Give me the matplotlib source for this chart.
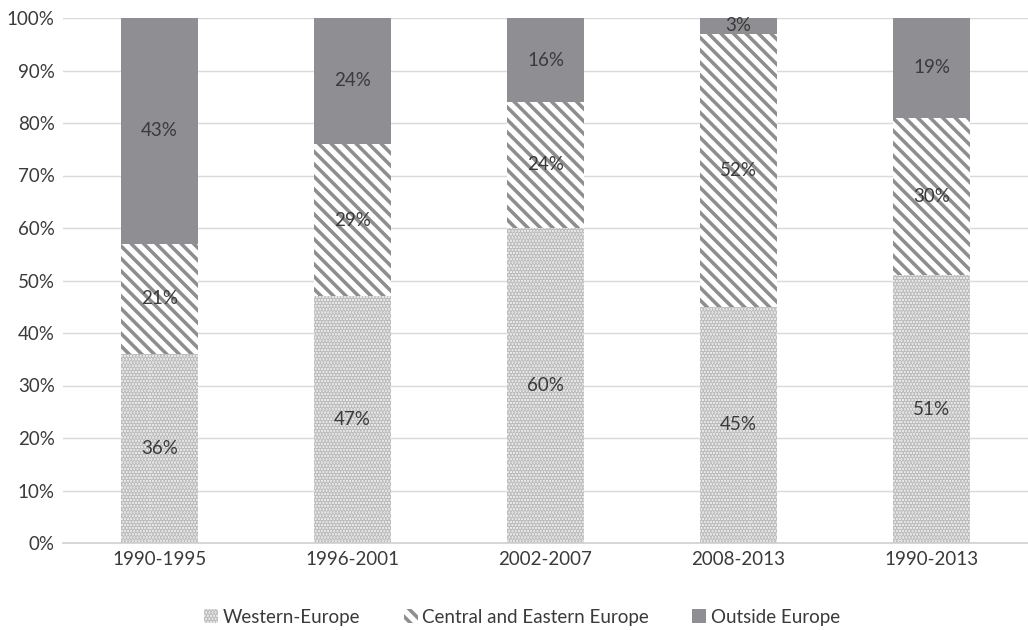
import numpy as np
import matplotlib
matplotlib.use("Agg")
import matplotlib.pyplot as plt
from matplotlib.patches import Patch

periods = ["1990-1995", "1996-2001", "2002-2007", "2008-2013", "1990-2013"]
western = [36, 47, 60, 45, 51]
central = [21, 29, 24, 52, 30]
outside = [43, 24, 16, 3, 19]
series_names = ["Western-Europe", "Central and Eastern Europe", "Outside Europe"]

DPI = 150
plt.rcParams['font.family'] = ['Lato', 'DejaVu Sans']
plt.rcParams['hatch.linewidth'] = 1.7

fig = plt.figure(figsize=(1028 / DPI, 630 / DPI), dpi=DPI)
ax = fig.add_axes([63 / 1028, 1 - 543 / 630, 1 - 63 / 1028, (543 - 18) / 630])

x = np.arange(len(periods))
w = 0.4
text_col = "#3a3a3a"
fs = 9.0

west_style = dict(facecolor="#ececec", edgecolor="#bdbdbd", hatch="........", linewidth=0)
cent_style = dict(facecolor="white", edgecolor="#8e8e8e", hatch="\\\\\\\\", linewidth=0)
out_style = dict(facecolor="#8f8f93", linewidth=0)

ax.bar(x, western, w, zorder=2, **west_style)
ax.bar(x, central, w, bottom=western, zorder=2, **cent_style)
bottom3 = np.array(western) + np.array(central)
ax.bar(x, outside, w, bottom=bottom3, zorder=2, **out_style)

for xi, (a, b, c) in enumerate(zip(western, central, outside)):
    for base, v in ((0, a), (a, b), (a + b, c)):
        ax.text(xi, base + v / 2, f"{v}%", ha="center", va="center", fontsize=fs, color=text_col, zorder=3)

ax.set_xlim(-0.5, len(periods) - 0.5)
ax.set_ylim(0, 100)
ax.set_yticks(np.arange(0, 101, 10))
ax.set_yticklabels([f"{t}%" for t in range(0, 101, 10)])
ax.set_xticks(x)
ax.set_xticklabels(periods)
ax.tick_params(axis="both", length=0, labelsize=fs, labelcolor=text_col)
ax.tick_params(axis="y", pad=4)
ax.tick_params(axis="x", pad=4)
ax.yaxis.grid(True, color="#dadada", linewidth=0.7, zorder=0)
ax.set_axisbelow(True)
for s in ("top", "right", "left"):
    ax.spines[s].set_visible(False)
ax.spines["bottom"].set_color("#d0d0d0")
ax.spines["bottom"].set_linewidth(0.8)

handles = [Patch(**west_style), Patch(**cent_style), Patch(**out_style)]
fig.legend(handles, series_names, loc="center", bbox_to_anchor=(0.508, 1 - 617 / 630), ncol=3,
           frameon=False, fontsize=fs, handlelength=0.75, handleheight=0.75, handletextpad=0.25,
           columnspacing=2.3, labelcolor=text_col)

fig.savefig("out.png", dpi=DPI)
